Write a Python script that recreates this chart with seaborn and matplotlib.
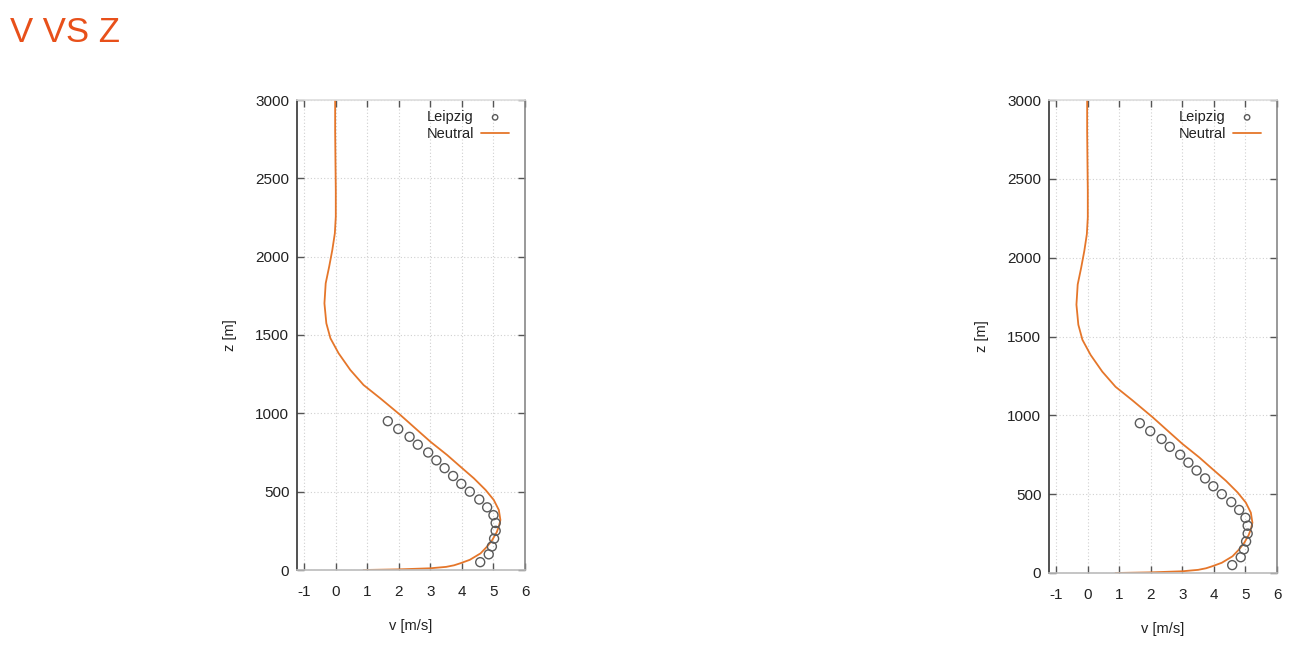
import matplotlib
matplotlib.use("Agg")
import matplotlib.pyplot as plt
import seaborn as sns
import pandas as pd

# Leipzig observations (v in m/s, z in m)
leipzig_z = [50, 100, 150, 200, 250, 300, 350, 400, 450, 500,
             550, 600, 650, 700, 750, 800, 850, 900, 950]
leipzig_v = [4.58, 4.85, 4.95, 5.02, 5.07, 5.07, 5.00, 4.80, 4.55, 4.25,
             3.98, 3.72, 3.45, 3.19, 2.93, 2.60, 2.34, 1.98, 1.65]

# Neutral model profile
neutral_z = [0, 4, 11, 20, 30, 43, 65, 106, 150, 191, 240, 277, 319, 383,
             447, 511, 585, 660, 734, 819, 894, 989, 1096, 1181, 1277,
             1383, 1479, 1575, 1702, 1830, 1936, 2043, 2149, 2255, 2425,
             2600, 2800, 3000]
neutral_v = [0.88, 2.0, 3.0, 3.5, 3.75, 3.95, 4.25, 4.59, 4.80, 4.96, 5.10,
             5.17, 5.22, 5.17, 5.01, 4.75, 4.38, 3.95, 3.53, 3.0, 2.58, 2.05,
             1.41, 0.88, 0.46, 0.09, -0.17, -0.30, -0.36, -0.32, -0.21, -0.11,
             -0.03, 0.0, 0.0, -0.01, -0.02, -0.02]

x_ticks = [-1, 0, 1, 2, 3, 4, 5, 6]
y_ticks = [0, 500, 1000, 1500, 2000, 2500, 3000]
title_text = "V VS Z"

obs = pd.DataFrame({"v": leipzig_v, "z": leipzig_z})
mod = pd.DataFrame({"v": neutral_v, "z": neutral_z})

sns.set_theme(style="white")
plt.rcParams["font.family"] = ["Liberation Sans", "DejaVu Sans"]

ORANGE = "#E5762A"
fig = plt.figure(figsize=(13.09, 6.51), dpi=100)

axes_rects = [
    [297 / 1309, (651 - 570) / 651, 228 / 1309, 470 / 651],
    [1049 / 1309, (651 - 573) / 651, 228 / 1309, 473 / 651],
]

for rect in axes_rects:
    ax = fig.add_axes(rect)
    sns.scatterplot(data=obs, x="v", y="z", ax=ax, marker="o", s=42,
                    facecolor="none", edgecolor="#5a5a5a", linewidth=1.0,
                    label="Leipzig", zorder=3)
    sns.lineplot(data=mod, x="v", y="z", ax=ax, sort=False, estimator=None,
                 color=ORANGE, linewidth=1.3, label="Neutral", zorder=2)
    ax.set_xlim(-1.23, 6)
    ax.set_ylim(0, 3000)
    ax.set_xticks(x_ticks)
    ax.set_yticks(y_ticks)
    ax.set_xticklabels([str(t) for t in x_ticks])
    ax.set_yticklabels([str(t) for t in y_ticks])
    ax.tick_params(direction="in", length=5, width=1, color="#555555",
                   top=True, right=True, bottom=True, left=True,
                   labelsize=11, labelcolor="#222222")
    ax.tick_params(axis="y", pad=5.5)
    ax.tick_params(axis="x", pad=11)
    ax.grid(True, linestyle=(0, (1, 2)), color="#d0d0d0", linewidth=0.8)
    ax.set_xlabel("v [m/s]", fontsize=10.5, color="#222222", labelpad=14)
    ax.set_ylabel("z [m]", fontsize=10.5, color="#222222", labelpad=13)
    for side, col in [("left", "#333333"), ("bottom", "#bbbbbb"),
                      ("top", "#dddddd"), ("right", "#888888")]:
        ax.spines[side].set_visible(True)
        ax.spines[side].set_color(col)
        ax.spines[side].set_linewidth(1.2)
    leg = ax.legend(loc="upper right", frameon=False, markerfirst=False,
                    fontsize=10.5, handlelength=1.9, handletextpad=0.5,
                    borderaxespad=0.3, borderpad=0.3, labelspacing=0.2,
                    markerscale=0.6, bbox_to_anchor=(0.968, 0.997))
    for t in leg.get_texts():
        t.set_ha("right")
        t.set_color("#222222")
    leg._legend_box.align = "right"

fig.text(10 / 1309, 1 - 32 / 651, title_text, fontsize=25, color="#E8501A",
         ha="left", va="center")

fig.savefig("out.png", dpi=100)
